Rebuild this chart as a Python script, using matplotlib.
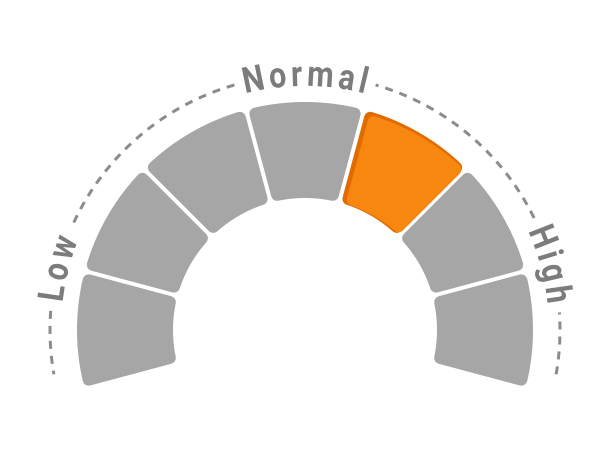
import numpy as np
import matplotlib
matplotlib.use("Agg")
import matplotlib.pyplot as plt
from matplotlib.patches import Polygon, PathPatch
from matplotlib.font_manager import FontProperties
from matplotlib.textpath import TextToPath, TextPath
from matplotlib.transforms import Affine2D

# ---- data ----
segment_values = [1, 1, 1, 1, 1, 1, 1]
active_index = 4
zone_labels = ["Low", "Normal", "High"]
zone_angles = [166, 90, 15]

# ---- style ----
W, H = 610, 458
cx, cy = 305, 330
r_in, r_out = 130, 230
start_deg, end_deg = 195, -15
gap = 4.0
rc = 6.0
gray = "#a6a6a6"
orange = "#f7870f"
orange_dark = "#e26b00"
text_col = "#7c7c7c"
dash_col = "#8c8c8c"
r_dash = 255
r_base = 244
em = 36
sx = 0.85
track = 4.0

plt.rcParams["lines.scale_dashes"] = False
fig = plt.figure(figsize=(W / 100, H / 100), dpi=100)
ax = fig.add_axes([0, 0, 1, 1])
ax.set_xlim(0, W)
ax.set_ylim(H, 0)
ax.axis("off")
px2pt = 72 / 100


def pt(r, th):
    return cx + r * np.cos(th), cy - r * np.sin(th)


def seg_poly(th_hi, th_lo, d, ri, ro, n=60):
    pts = []
    a1 = th_hi - np.arcsin(d / ro)
    a2 = th_lo + np.arcsin(d / ro)
    for a in np.linspace(a1, a2, n):
        pts.append(pt(ro, a))
    b1 = th_lo + np.arcsin(d / ri)
    b2 = th_hi - np.arcsin(d / ri)
    for a in np.linspace(b1, b2, n):
        pts.append(pt(ri, a))
    return np.array(pts)


total = sum(segment_values)
span = np.radians(start_deg - end_deg)
acc = 0.0
for i, v in enumerate(segment_values):
    th_hi = np.radians(start_deg) - span * acc / total
    th_lo = np.radians(start_deg) - span * (acc + v) / total
    acc += v
    d = gap / 2 + rc
    P = seg_poly(th_hi, th_lo, d, r_in + d, r_out - d)
    if i == active_index:
        ax.add_patch(Polygon(P, closed=True, facecolor=orange_dark, edgecolor=orange_dark,
                             lw=2 * rc * px2pt, joinstyle="round", zorder=2))
        P2 = seg_poly(th_hi, th_lo, d + 2, r_in + d + 2, r_out - d - 2) + np.array([2.0, 2.0])
        ax.add_patch(Polygon(P2, closed=True, facecolor=orange, edgecolor=orange,
                             lw=2 * rc * px2pt, joinstyle="round", zorder=3))
    else:
        ax.add_patch(Polygon(P, closed=True, facecolor=gray, edgecolor=gray,
                             lw=2 * rc * px2pt, joinstyle="round", zorder=2))

# ---- curved labels ----
fp = FontProperties(family=["Roboto", "DejaVu Sans"], weight="bold", size=em)
t2p = TextToPath()


def tw(s):
    if not s:
        return 0.0
    w, h, dd = t2p.get_text_width_height_descent(s, fp, ismath=False)
    return w * sx


gaps = []
for lab, ang in zip(zone_labels, zone_angles):
    n = len(lab)
    total_w = tw(lab) + track * (n - 1)
    th0 = np.radians(ang)
    for k, ch in enumerate(lab):
        left = tw(lab[:k]) + track * k
        cw = tw(lab[:k + 1]) - tw(lab[:k])
        s_c = left + cw / 2
        a = th0 + (total_w / 2 - s_c) / r_base
        x, y = pt(r_base, a)
        tp = TextPath((0, 0), ch, size=em, prop=fp)
        tr = (Affine2D().scale(sx, 1).translate(-cw / 2, 0).scale(1, -1)
              .rotate_deg(-(np.degrees(a) - 90)).translate(x, y))
        ax.add_patch(PathPatch(tr.transform_path(tp), facecolor=text_col,
                               edgecolor="none", zorder=4))
    half = (total_w / 2 + 11) / r_dash
    gaps.append((th0 - half, th0 + half))

# ---- dashed arc ----
bounds = [np.radians(end_deg + 5)]
for lo, hi in sorted(gaps):
    bounds += [lo, hi]
bounds.append(np.radians(start_deg - 5))
for j in range(0, len(bounds), 2):
    a = np.linspace(bounds[j], bounds[j + 1], 200)
    x, y = pt(r_dash, a)
    ax.plot(x, y, color=dash_col, lw=3 * px2pt, dashes=(8 * px2pt, 7 * px2pt),
            solid_capstyle="butt", dash_capstyle="butt", zorder=1)

fig.savefig("out.png", dpi=100)
